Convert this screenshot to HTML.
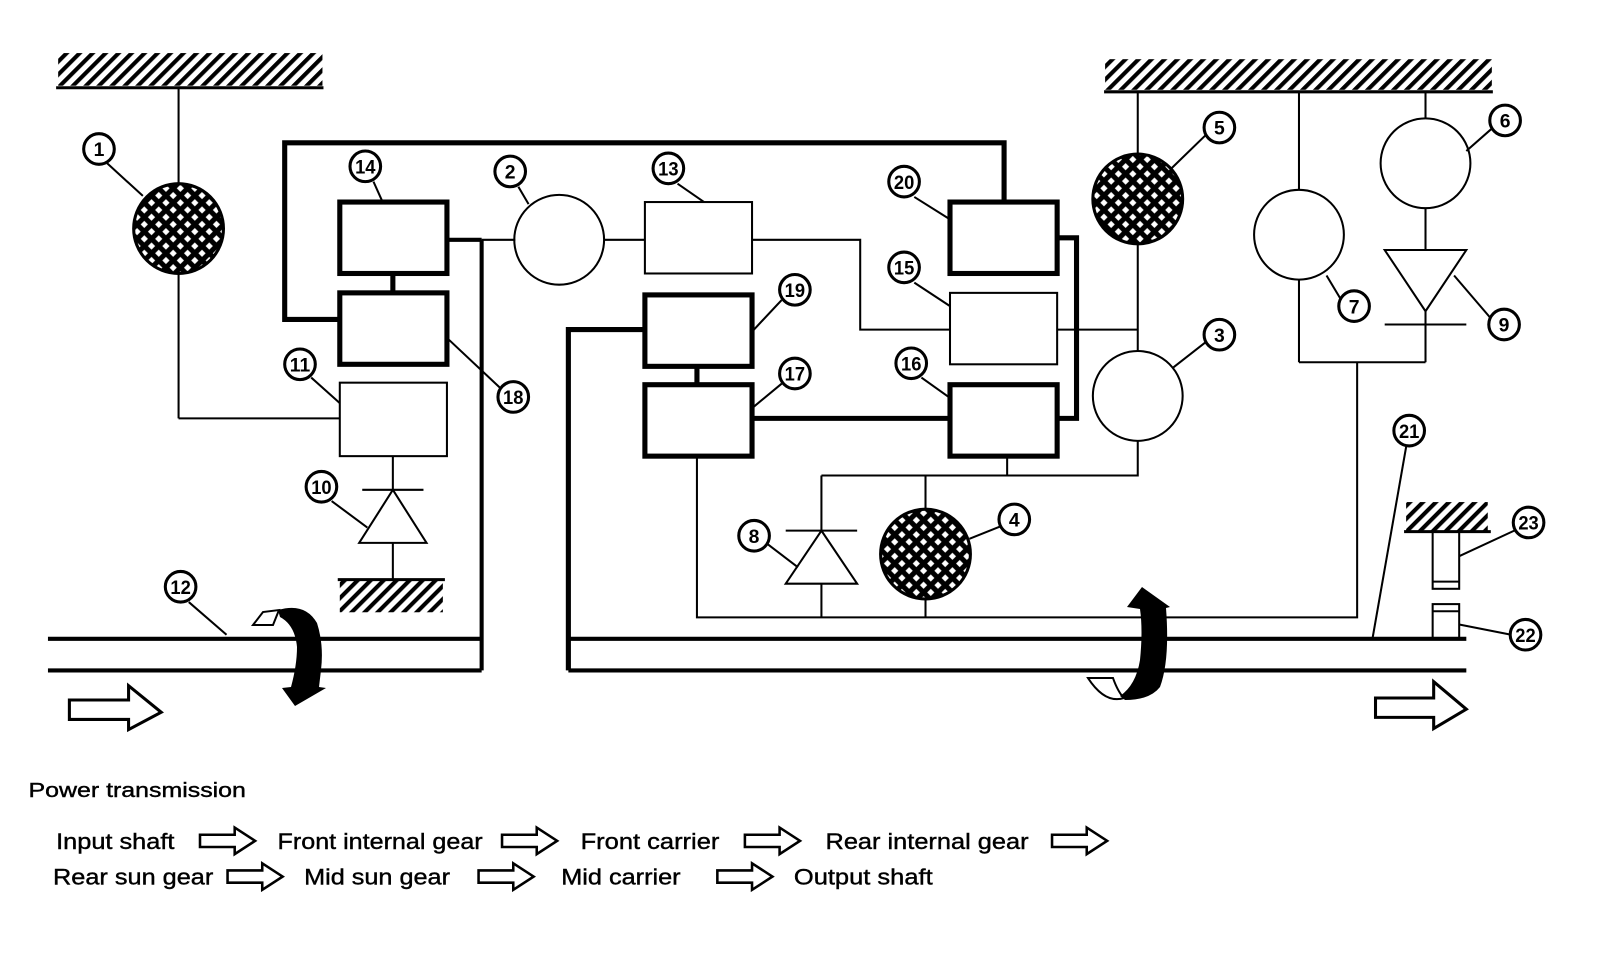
<!DOCTYPE html>
<html><head><meta charset="utf-8"><style>
html,body{margin:0;padding:0;background:#fff;}
svg{display:block;}
text{font-family:"Liberation Sans",sans-serif;fill:#000;}
</style></head><body>
<svg width="1600" height="968" viewBox="0 0 1568 948.6" preserveAspectRatio="none" xmlns="http://www.w3.org/2000/svg">
<defs>
<pattern id="hatch" width="9" height="9" patternUnits="userSpaceOnUse" patternTransform="rotate(45)">
<rect width="9" height="9" fill="#fff"/><rect width="4" height="9" fill="#000"/>
</pattern>
<pattern id="mesh" width="10" height="10" patternUnits="userSpaceOnUse" patternTransform="rotate(45)">
<rect width="10" height="10" fill="#000"/><rect x="3" y="3" width="5" height="5" fill="#fff"/>
</pattern>
<path id="harr" d="M0,-6 H34 V-13 L54,0 L34,13 V6 H0 Z" fill="#fff" stroke="#000" stroke-width="2.5"/>
</defs>
<g fill="none" stroke="#000">
<rect x="57" y="52" width="259" height="32" fill="url(#hatch)" stroke="none"/>
<line x1="55" y1="86" x2="317" y2="86" stroke-width="3"/>
<rect x="1083" y="58" width="379" height="30" fill="url(#hatch)" stroke="none"/>
<line x1="1082" y1="90" x2="1463" y2="90" stroke-width="3"/>
<rect x="333" y="568" width="101" height="32" fill="url(#hatch)" stroke="none"/>
<line x1="331" y1="568" x2="436" y2="568" stroke-width="3"/>
<rect x="1378" y="492" width="80" height="28" fill="url(#hatch)" stroke="none"/>
<line x1="1376" y1="521" x2="1461" y2="521" stroke-width="3"/>

<line x1="175" y1="86" x2="175" y2="410" stroke-width="2"/>
<line x1="175" y1="410" x2="333" y2="410" stroke-width="2"/>
<circle cx="175" cy="224" r="44" fill="url(#mesh)" stroke-width="3"/>

<polyline points="333,313 279,313 279,140 984,140 984,198" stroke-width="5"/>
<rect x="333" y="198" width="105" height="70" stroke-width="5"/>
<rect x="333" y="287" width="105" height="70" stroke-width="5"/>
<line x1="385" y1="268" x2="385" y2="287" stroke-width="5"/>
<rect x="333" y="375" width="105" height="72" stroke-width="2"/>
<line x1="438" y1="235" x2="472" y2="235" stroke-width="4"/>
<line x1="472" y1="235" x2="505" y2="235" stroke-width="2"/>
<line x1="472" y1="235" x2="472" y2="657" stroke-width="4"/>
<circle cx="548" cy="235" r="44" stroke-width="2"/>
<line x1="592" y1="235" x2="632" y2="235" stroke-width="2"/>
<rect x="632" y="198" width="105" height="70" stroke-width="2"/>
<polyline points="737,235 843,235 843,323 931,323" stroke-width="2"/>

<line x1="385" y1="447" x2="385" y2="568" stroke-width="2"/>
<line x1="355" y1="480" x2="415" y2="480" stroke-width="2"/>
<polygon points="385,480 352,532 418,532" fill="#fff" stroke-width="2"/>

<rect x="632" y="289" width="105" height="70" stroke-width="5"/>
<rect x="632" y="377" width="105" height="70" stroke-width="5"/>
<line x1="683" y1="359" x2="683" y2="377" stroke-width="5"/>
<polyline points="632,323 557,323 557,657" stroke-width="5"/>
<line x1="737" y1="410" x2="931" y2="410" stroke-width="5"/>
<polyline points="683,447 683,605 1330,605 1330,355" stroke-width="2"/>

<rect x="931" y="198" width="105" height="70" stroke-width="5"/>
<rect x="931" y="287" width="105" height="70" stroke-width="2"/>
<rect x="931" y="377" width="105" height="70" stroke-width="5"/>
<polyline points="1036,233 1055,233 1055,410 1036,410" stroke-width="5"/>
<line x1="1036" y1="323" x2="1115" y2="323" stroke-width="2"/>
<line x1="1115" y1="90" x2="1115" y2="344" stroke-width="2"/>
<circle cx="1115" cy="195" r="44" fill="url(#mesh)" stroke-width="3"/>
<circle cx="1115" cy="388" r="44" fill="#fff" stroke-width="2"/>
<polyline points="1115,432 1115,466 805,466" stroke-width="2"/>
<line x1="987" y1="447" x2="987" y2="466" stroke-width="2"/>
<line x1="907" y1="466" x2="907" y2="605" stroke-width="2"/>
<circle cx="907" cy="543" r="44" fill="url(#mesh)" stroke-width="3"/>
<line x1="805" y1="466" x2="805" y2="605" stroke-width="2"/>
<line x1="770" y1="520" x2="840" y2="520" stroke-width="2"/>
<polygon points="805,520 770,572 840,572" fill="#fff" stroke-width="2"/>

<line x1="1273" y1="90" x2="1273" y2="355" stroke-width="2"/>
<line x1="1397" y1="90" x2="1397" y2="355" stroke-width="2"/>
<line x1="1273" y1="355" x2="1397" y2="355" stroke-width="2"/>
<circle cx="1273" cy="230" r="44" fill="#fff" stroke-width="2"/>
<circle cx="1397" cy="160" r="44" fill="#fff" stroke-width="2"/>
<polygon points="1357,245 1437,245 1397,305" fill="#fff" stroke-width="2"/>
<line x1="1357" y1="318" x2="1437" y2="318" stroke-width="2"/>

<line x1="47" y1="626" x2="472" y2="626" stroke-width="4"/>
<line x1="47" y1="657" x2="472" y2="657" stroke-width="4"/>
<line x1="557" y1="626" x2="1437" y2="626" stroke-width="4"/>
<line x1="557" y1="657" x2="1437" y2="657" stroke-width="4"/>

<rect x="1404" y="521" width="26" height="56" stroke-width="2"/>
<line x1="1404" y1="570" x2="1430" y2="570" stroke-width="2"/>
<rect x="1404" y="592" width="26" height="34" stroke-width="2"/>
<line x1="1404" y1="599" x2="1430" y2="599" stroke-width="2"/>
</g>

<!-- rotation arrows (true-pixel coords scaled) -->
<g transform="scale(0.98)">
<polygon points="253,625 263,612 279,610 273,625" fill="#fff" stroke="#000" stroke-width="2"/>
<path d="M278,610 Q305,602 317,623 Q324,645 321,670 L319,687 L326,688 L295,706 L282,688 L291,687 Q297,665 297,647 Q295,625 280,617 Z" fill="#000"/>
<path d="M1088,678 L1113,678 Q1118,692 1124,698 Q1105,704 1088,678 Z" fill="#fff" stroke="#000" stroke-width="2"/>
<path d="M1142,587 L1170,607 L1166,608 Q1170,660 1160,687 Q1150,700 1125,700 L1120,696 Q1136,685 1140,660 Q1143,630 1140,609 L1127,607 Z" fill="#000"/>
</g>

<path d="M68,686 H126 V672 L158,698 L126,715 V705 H68 Z" fill="#fff" stroke="#000" stroke-width="3"/>
<path d="M1348,684 H1405 V668 L1437,695 L1405,714 V703 H1348 Z" fill="#fff" stroke="#000" stroke-width="3"/>

<g stroke="#000" stroke-width="2">
<line x1="105" y1="160" x2="140" y2="192"/>
<line x1="366" y1="178" x2="375" y2="198"/>
<line x1="508" y1="183" x2="518" y2="200"/>
<line x1="664" y1="180" x2="690" y2="198"/>
<line x1="896" y1="193" x2="931" y2="215"/>
<line x1="896" y1="277" x2="931" y2="300"/>
<line x1="766" y1="294" x2="737" y2="325"/>
<line x1="766" y1="376" x2="737" y2="400"/>
<line x1="903" y1="370" x2="931" y2="390"/>
<line x1="490" y1="380" x2="440" y2="333"/>
<line x1="305" y1="370" x2="333" y2="395"/>
<line x1="325" y1="491" x2="360" y2="517"/>
<line x1="185" y1="590" x2="222" y2="622"/>
<line x1="752" y1="533" x2="782" y2="556"/>
<line x1="980" y1="516" x2="950" y2="528"/>
<line x1="1182" y1="132" x2="1148" y2="165"/>
<line x1="1462" y1="126" x2="1437" y2="148"/>
<line x1="1315" y1="295" x2="1300" y2="270"/>
<line x1="1461" y1="312" x2="1425" y2="270"/>
<line x1="1182" y1="335" x2="1150" y2="360"/>
<line x1="1378" y1="438" x2="1345" y2="626"/>
<line x1="1484" y1="520" x2="1430" y2="545"/>
<line x1="1481" y1="622" x2="1430" y2="612"/>
</g>

<g font-size="19" font-weight="bold" text-anchor="middle">
<g fill="#fff" stroke="#000" stroke-width="3">
<circle cx="97" cy="146" r="15"/><circle cx="358" cy="163" r="15"/><circle cx="500" cy="168" r="15"/>
<circle cx="655" cy="165" r="15"/><circle cx="886" cy="178" r="15"/><circle cx="886" cy="262" r="15"/>
<circle cx="779" cy="284" r="15"/><circle cx="779" cy="366" r="15"/><circle cx="893" cy="356" r="15"/>
<circle cx="503" cy="389" r="15"/><circle cx="294" cy="357" r="15"/><circle cx="315" cy="477" r="15"/>
<circle cx="177" cy="575" r="15"/><circle cx="739" cy="525" r="15"/><circle cx="994" cy="509" r="15"/>
<circle cx="1195" cy="125" r="15"/><circle cx="1475" cy="118" r="15"/><circle cx="1327" cy="300" r="15"/>
<circle cx="1474" cy="318" r="15"/><circle cx="1195" cy="328" r="15"/><circle cx="1381" cy="422" r="15"/>
<circle cx="1498" cy="512" r="15"/><circle cx="1495" cy="622" r="15"/>
</g>
<text x="97" y="153">1</text><text x="358" y="170" textLength="20" lengthAdjust="spacingAndGlyphs">14</text>
<text x="500" y="175">2</text><text x="655" y="172" textLength="20" lengthAdjust="spacingAndGlyphs">13</text>
<text x="886" y="185" textLength="20" lengthAdjust="spacingAndGlyphs">20</text><text x="886" y="269" textLength="20" lengthAdjust="spacingAndGlyphs">15</text>
<text x="779" y="291" textLength="20" lengthAdjust="spacingAndGlyphs">19</text><text x="779" y="373" textLength="20" lengthAdjust="spacingAndGlyphs">17</text>
<text x="893" y="363" textLength="20" lengthAdjust="spacingAndGlyphs">16</text><text x="503" y="396" textLength="20" lengthAdjust="spacingAndGlyphs">18</text>
<text x="294" y="364" textLength="20" lengthAdjust="spacingAndGlyphs">11</text><text x="315" y="484" textLength="20" lengthAdjust="spacingAndGlyphs">10</text>
<text x="177" y="582" textLength="20" lengthAdjust="spacingAndGlyphs">12</text><text x="739" y="532">8</text>
<text x="994" y="516">4</text><text x="1195" y="132">5</text><text x="1475" y="125">6</text>
<text x="1327" y="307">7</text><text x="1474" y="325">9</text><text x="1195" y="335">3</text>
<text x="1381" y="429" textLength="20" lengthAdjust="spacingAndGlyphs">21</text>
<text x="1498" y="519" textLength="20" lengthAdjust="spacingAndGlyphs">23</text>
<text x="1495" y="629" textLength="20" lengthAdjust="spacingAndGlyphs">22</text>
</g>

<g font-size="22" stroke="#000" stroke-width="0.4">
<text x="28" y="781" font-size="20" textLength="213" lengthAdjust="spacingAndGlyphs">Power transmission</text>
<text x="55" y="832" textLength="116" lengthAdjust="spacingAndGlyphs">Input shaft</text>
<text x="272" y="832" textLength="201" lengthAdjust="spacingAndGlyphs">Front internal gear</text>
<text x="569" y="832" textLength="136" lengthAdjust="spacingAndGlyphs">Front carrier</text>
<text x="809" y="832" textLength="199" lengthAdjust="spacingAndGlyphs">Rear internal gear</text>
<text x="52" y="867" textLength="157" lengthAdjust="spacingAndGlyphs">Rear sun gear</text>
<text x="298" y="867" textLength="143" lengthAdjust="spacingAndGlyphs">Mid sun gear</text>
<text x="550" y="867" textLength="117" lengthAdjust="spacingAndGlyphs">Mid carrier</text>
<text x="778" y="867" textLength="136" lengthAdjust="spacingAndGlyphs">Output shaft</text>
</g>
<use href="#harr" x="196" y="824"/>
<use href="#harr" x="492" y="824"/>
<use href="#harr" x="730" y="824"/>
<use href="#harr" x="1031" y="824"/>
<use href="#harr" x="223" y="859"/>
<use href="#harr" x="469" y="859"/>
<use href="#harr" x="703" y="859"/>
</svg>
</body></html>
